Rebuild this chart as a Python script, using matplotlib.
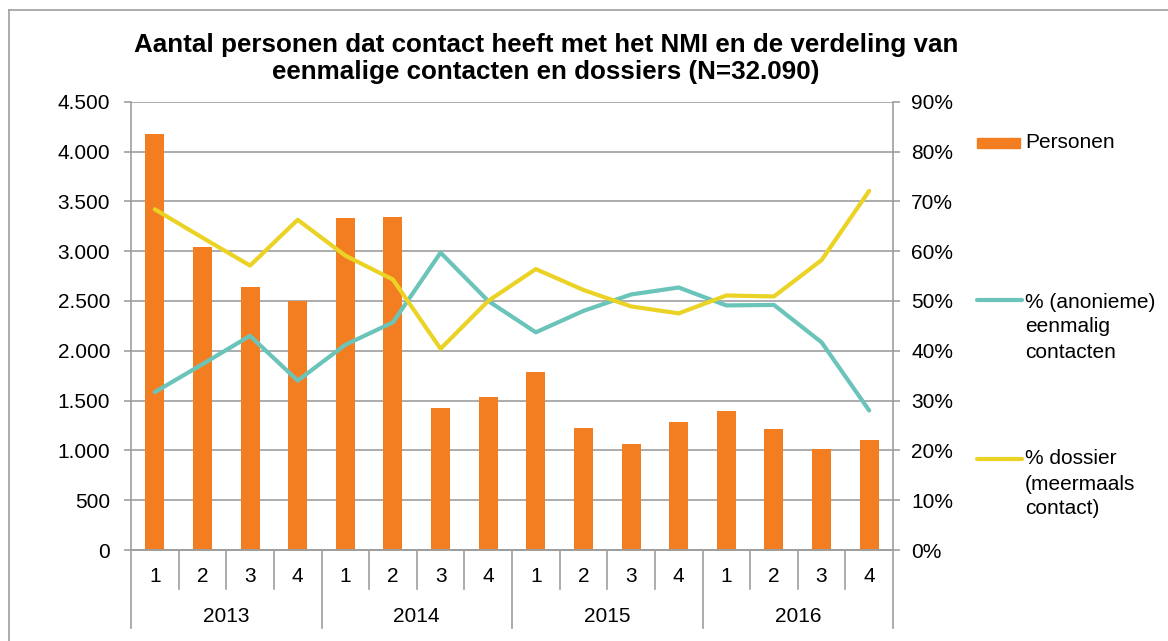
import numpy as np
import matplotlib
matplotlib.use('Agg')
import matplotlib.pyplot as plt
from matplotlib.lines import Line2D
from matplotlib.patches import Rectangle
import matplotlib.transforms as mtransforms

plt.rcParams['font.family'] = ['Liberation Sans', 'DejaVu Sans']

quarters = ['1', '2', '3', '4'] * 4
years = ['2013', '2014', '2015', '2016']
personen = [4180, 3040, 2640, 2495, 3335, 3345, 1430, 1535,
            1790, 1220, 1060, 1280, 1395, 1215, 1015, 1105]
eenmalig = [31.7, 37.3, 43.0, 34.0, 41.2, 45.7, 59.7, 50.0,
            43.7, 48.0, 51.3, 52.7, 49.1, 49.2, 41.7, 28.0]
dossier = [68.4, 62.7, 57.1, 66.3, 59.1, 54.3, 40.4, 50.0,
           56.4, 52.2, 48.9, 47.5, 51.1, 50.9, 58.2, 72.1]

c_bar = '#F37E22'
c_teal = '#6AC4B9'
c_yel = '#EBD325'
c_grid = '#9E9E9E'
fs = 15

W, H = 1168, 641
fig = plt.figure(figsize=(W/100, H/100), dpi=100)

def fx(px):
    return px / W

def fy(py):
    return 1 - py / H

# chart frame
fig.add_artist(Line2D([fx(9), fx(9)], [fy(10), 0], color=c_grid, lw=1.2))
fig.add_artist(Line2D([fx(9), 1], [fy(10), fy(10)], color=c_grid, lw=1.2))

L, R, T, B = 131, 893, 101.7, 550
ax = fig.add_axes([fx(L), fy(B), fx(R - L), (B - T) / H])
ax2 = ax.twinx()

x = np.arange(len(personen))
ax.bar(x, personen, width=0.4, color=c_bar, zorder=2)
ax.set_xlim(-0.5, len(x) - 0.5)
ax.set_ylim(0, 4500)
ax.set_yticks(np.arange(0, 4501, 500))
ax.set_yticklabels(['{:,}'.format(v).replace(',', '.') for v in range(0, 4501, 500)])
ax.yaxis.grid(True, color=c_grid, lw=1.2, zorder=0)
ax.set_axisbelow(True)

ax2.plot(x, eenmalig, color=c_teal, lw=3, solid_capstyle='round', zorder=3)
ax2.plot(x, dossier, color=c_yel, lw=3, solid_capstyle='round', zorder=3)
ax2.set_ylim(0, 90)
ax2.set_yticks(np.arange(0, 91, 10))
ax2.set_yticklabels(['%d%%' % v for v in range(0, 91, 10)])

for a in (ax, ax2):
    a.spines['top'].set_visible(False)
    for s in ('left', 'right', 'bottom'):
        a.spines[s].set_color(c_grid)
        a.spines[s].set_linewidth(1.2)
    a.tick_params(axis='y', colors=c_grid, labelcolor='black', labelsize=fs,
                  length=5, width=1.2)
ax.tick_params(axis='y', pad=10)
ax2.tick_params(axis='y', pad=8)
ax.spines['right'].set_visible(False)
ax2.spines['left'].set_visible(False)
ax.set_xticks([])

# category axis (quarter / year)
trans = mtransforms.blended_transform_factory(ax.transData, ax.transAxes)
h = B - T
for k in range(len(x) + 1):
    depth = 628 if k % 4 == 0 else 589
    ax.plot([k - 0.5, k - 0.5], [0, -(depth - B) / h], transform=trans,
            color=c_grid, lw=1.2, clip_on=False)
for i, q in enumerate(quarters):
    ax.text(i, -(577 - B) / h, q, transform=trans, ha='center', va='center', fontsize=fs)
for j, yr in enumerate(years):
    ax.text(4 * j + 1.5, -(616 - B) / h, yr, transform=trans, ha='center', va='center', fontsize=fs)

# title
fig.text(fx(546), fy(52), 'Aantal personen dat contact heeft met het NMI en de verdeling van',
         ha='center', va='baseline', fontsize=18.7, fontweight='bold')
fig.text(fx(546), fy(79), 'eenmalige contacten en dossiers (N=32.090)',
         ha='center', va='baseline', fontsize=18.7, fontweight='bold')

# legend
fig.add_artist(Rectangle((fx(977), fy(148)), fx(43), 10 / H, color=c_bar))
fig.text(fx(1025), fy(142), 'Personen', ha='left', va='center', fontsize=fs)
fig.add_artist(Line2D([fx(977), fx(1022)], [fy(300), fy(300)], color=c_teal, lw=3,
                      solid_capstyle='round'))
for n, t in enumerate(['% (anonieme)', 'eenmalig', 'contacten']):
    fig.text(fx(1025), fy(302 + 25 * n), t, ha='left', va='center', fontsize=fs)
fig.add_artist(Line2D([fx(977), fx(1022)], [fy(459), fy(459)], color=c_yel, lw=3,
                      solid_capstyle='round'))
for n, t in enumerate(['% dossier', '(meermaals', 'contact)']):
    fig.text(fx(1025), fy(459 + 25 * n), t, ha='left', va='center', fontsize=fs)

fig.savefig('out.png', dpi=100)
